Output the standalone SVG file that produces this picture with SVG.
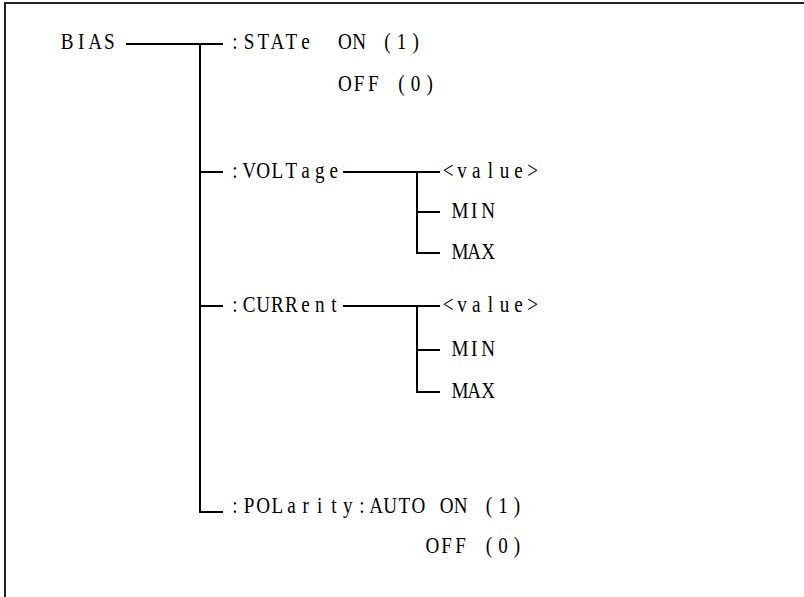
<svg xmlns="http://www.w3.org/2000/svg" width="804" height="597" viewBox="0 0 804 597">
<style>
text{font-family:"Liberation Serif","Times New Roman",serif;font-size:22.5px;fill:#000;text-anchor:middle}
.ln{fill:none;stroke:#000;stroke-width:2}
</style>
<rect x="0" y="0" width="804" height="597" fill="#fff"/>
<rect x="5" y="3" width="900" height="700" fill="none" stroke="#222" stroke-width="2"/>
<g id="connectors" class="ln">
<path d="M126 44H223"/>
<path d="M200 44V512H223"/>
<path d="M200 172H223"/>
<path d="M200 306H223"/>
<path d="M343 172H440"/>
<path d="M417 172V253H440"/>
<path d="M417 212H440"/>
<path d="M343 306H440"/>
<path d="M417 306V392H440"/>
<path d="M417 350H440"/>
</g>
<g id="bias" transform="scale(0.85 1)"><text x="78.9 95.5 112.1 128.7" y="49">BIAS</text></g>
<g id="state" transform="scale(0.85 1)">
<text x="276.5 293.1 309.7 326.3 342.9 359.5" y="49">:STATe</text>
<text x="405.9 422.5 439.1 455.7 472.3 488.9" y="49">ON (1)</text>
<text x="405.9 422.5 439.1 455.7 472.3 488.9 505.5" y="91">OFF (0)</text>
</g>
<g id="voltage" transform="scale(0.85 1)"><text x="276.5 293.1 309.7 326.3 342.9 359.5 376.1 392.7" y="178">:VOLTage</text></g>
<g id="voltage-opts" transform="scale(0.85 1)">
<text x="527.1 543.7 560.3 576.9 593.5 610.1 626.7" y="178">&lt;value&gt;</text>
<text x="541.2 557.8 574.4" y="218">MIN</text>
<text x="541.2 557.8 574.4" y="259">MAX</text>
</g>
<g id="current" transform="scale(0.85 1)"><text x="276.5 293.1 309.7 326.3 342.9 359.5 376.1 392.7" y="312">:CURRent</text></g>
<g id="current-opts" transform="scale(0.85 1)">
<text x="527.1 543.7 560.3 576.9 593.5 610.1 626.7" y="312">&lt;value&gt;</text>
<text x="541.2 557.8 574.4" y="356">MIN</text>
<text x="541.2 557.8 574.4" y="398">MAX</text>
</g>
<g id="polarity" transform="scale(0.85 1)">
<text x="276.5 293.1 309.7 326.3 342.9 359.5 376.1 392.7 409.2 425.8 442.4 459.0 475.6 492.2 508.8 525.4 542.0 558.6 575.2 591.7 608.3" y="513">:POLarity:AUTO ON (1)</text>
<text x="508.8 525.4 542.0 558.6 575.2 591.7 608.3" y="553">OFF (0)</text>
</g>
</svg>
